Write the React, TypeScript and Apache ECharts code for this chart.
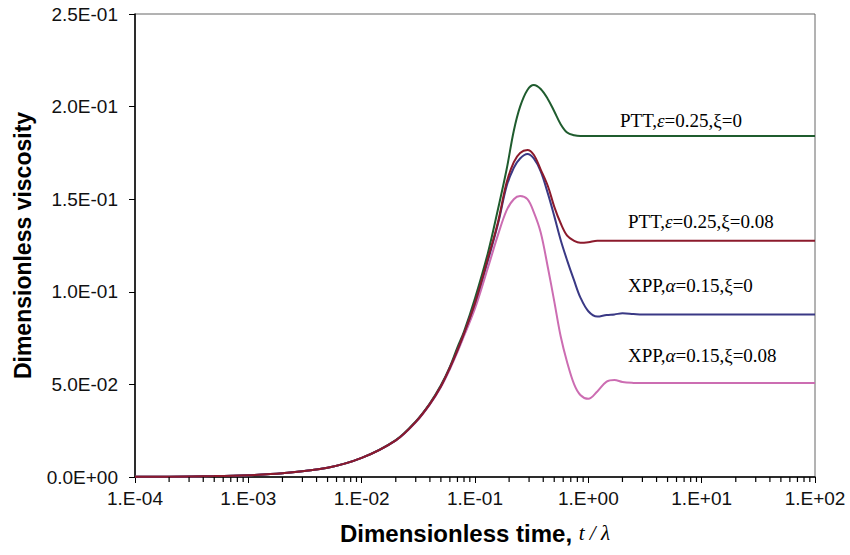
import React, { useEffect, useRef } from 'react';
import * as echarts from 'echarts';

// Dimensionless time t/λ
const times = [1e-4, 2e-4, 5e-4, 1e-3, 2e-3, 5e-3, 0.01, 0.02, 0.03, 0.04, 0.05, 0.06, 0.07, 0.08, 0.1,
  0.13, 0.16, 0.19, 0.22, 0.25, 0.29, 0.33, 0.38, 0.44, 0.5, 0.57, 0.65, 0.75, 0.85,
  1.0, 1.2, 1.45, 1.7, 2.0, 2.5, 3.0, 10, 100];

const pttXi0 = [0.0001, 0.0002, 0.0005, 0.001, 0.002, 0.005, 0.0103, 0.0199, 0.03, 0.0398, 0.0495, 0.0595, 0.070, 0.0785, 0.0965,
  0.121, 0.145, 0.166, 0.187, 0.200, 0.209, 0.2117, 0.2095, 0.204, 0.1975, 0.1905, 0.186, 0.1845, 0.1841,
  0.1841, 0.1841, 0.1841, 0.1841, 0.1841, 0.1841, 0.1841, 0.1841, 0.1841];

const pttXi008 = [0.0001, 0.0002, 0.0005, 0.001, 0.002, 0.005, 0.0103, 0.0198, 0.0298, 0.0395, 0.049, 0.059, 0.0685, 0.0775, 0.094,
  0.118, 0.138, 0.159, 0.170, 0.175, 0.1766, 0.174, 0.166, 0.157, 0.146, 0.137, 0.1303, 0.1275, 0.1265,
  0.1268, 0.1276, 0.1275, 0.1275, 0.1275, 0.1275, 0.1275, 0.1275, 0.1275];

const xppXi0 = [0.0001, 0.0002, 0.0005, 0.001, 0.002, 0.005, 0.0103, 0.0198, 0.0298, 0.0395, 0.049, 0.059, 0.0685, 0.0775, 0.094,
  0.117, 0.137, 0.157, 0.167, 0.172, 0.1744, 0.172, 0.165, 0.153, 0.141, 0.128, 0.117, 0.106, 0.097,
  0.0895, 0.0866, 0.0875, 0.0878, 0.0884, 0.0880, 0.0877, 0.0877, 0.0877];

const xppXi008 = [0.0001, 0.0002, 0.0005, 0.001, 0.002, 0.005, 0.0103, 0.0197, 0.0295, 0.0392, 0.0485, 0.0582, 0.0675, 0.0762, 0.091,
  0.113, 0.131, 0.144, 0.150, 0.1517, 0.150, 0.143, 0.132, 0.113, 0.095, 0.076, 0.062, 0.050, 0.0443,
  0.0422, 0.0462, 0.0515, 0.0524, 0.0513, 0.0508, 0.0507, 0.0507, 0.0507];

const seriesNames = ['PTT,ε=0.25,ξ=0', 'PTT,ε=0.25,ξ=0.08', 'XPP,α=0.15,ξ=0', 'XPP,α=0.15,ξ=0.08'];
const seriesColors = ['#1f5c2e', '#8c1a2c', '#3a3985', '#cc6db2'];

// minor tick positions (log axis): multipliers within each decade
const minorDecades = [-4, -3, -2, -1, 0, 1];
const minorMultipliers = [2, 3, 4, 5, 6, 7, 8, 9];

const pair = (vals: number[]) => times.map((t, i) => [t, vals[i]]);

const yFmt = (v: number) => {
  if (v === 0) return '0.0E+00';
  const e = Math.floor(Math.log10(v) + 1e-9);
  const m = v / Math.pow(10, e);
  return m.toFixed(1) + 'E' + (e < 0 ? '-' : '+') + String(Math.abs(e)).padStart(2, '0');
};
const xFmt = (v: number) => {
  const e = Math.round(Math.log10(v));
  return '1.E' + (e < 0 ? '-' : '+') + String(Math.abs(e)).padStart(2, '0');
};

export default function App() {
  const ref = useRef<HTMLDivElement>(null);
  useEffect(() => {
    if (!ref.current) return;
    const chart = echarts.init(ref.current, null, { renderer: 'svg' });
    const minorTicks: number[][] = [];
    minorDecades.forEach((d) => minorMultipliers.forEach((m) => minorTicks.push([m * Math.pow(10, d), 1])));

    const serif = '"Liberation Serif", "Times New Roman", serif';
    const sans = '"Liberation Sans", Arial, Helvetica, sans-serif';
    const labelRich = {
      n: { fontFamily: serif, fontSize: 19, color: '#000' },
      i: { fontFamily: serif, fontSize: 19, fontStyle: 'italic', color: '#000' },
    };
    const mkLabel = (left: number, top: number, parts: string) => ({
      type: 'text', left, top, silent: true,
      style: { text: parts, rich: labelRich, fill: '#000', font: '19px ' + serif },
    });

    const lineSeries = (name: string, vals: number[], color: string) => ({
      name, type: 'line', data: pair(vals), showSymbol: false, smooth: 0.35,
      lineStyle: { color, width: 2 }, itemStyle: { color }, z: 3,
    });

    chart.setOption({
      animation: false,
      backgroundColor: '#fff',
      grid: [
        { left: 135, right: 35, top: 14, bottom: 78, show: true, borderColor: '#666', borderWidth: 1 },
        // thin strip under the x axis that holds the log minor ticks
        { left: 135, right: 35, top: 477, height: 6, show: false },
      ],
      xAxis: [
        {
          type: 'log', logBase: 10, min: 1e-4, max: 100, gridIndex: 0,
          axisLine: { lineStyle: { color: '#000', width: 1.5 } },
          axisTick: { length: 6, lineStyle: { color: '#000', width: 1 } },
          axisLabel: { formatter: xFmt, fontSize: 19, fontFamily: sans, color: '#111', margin: 12 },
          splitLine: { show: false },
          name: '{a|Dimensionless time, }{b|t / λ}',
          nameLocation: 'middle', nameGap: 44,
          nameTextStyle: {
            rich: {
              a: { fontFamily: sans, fontWeight: 'bold', fontSize: 24, color: '#000' },
              b: { fontFamily: serif, fontStyle: 'italic', fontSize: 21, color: '#000' },
            },
          },
        },
        { type: 'log', logBase: 10, min: 1e-4, max: 100, gridIndex: 1, show: false },
      ],
      yAxis: [
        {
          type: 'value', min: 0, max: 0.25, interval: 0.05, gridIndex: 0,
          axisLine: { show: true, lineStyle: { color: '#000', width: 1.5 } },
          axisTick: { show: true, length: 6, lineStyle: { color: '#000', width: 1 } },
          axisLabel: { formatter: yFmt, fontSize: 19, fontFamily: sans, color: '#111', margin: 17 },
          splitLine: { show: false },
          name: 'Dimensionless viscosity',
          nameLocation: 'middle', nameGap: 101,
          nameTextStyle: { fontFamily: sans, fontWeight: 'bold', fontSize: 23, color: '#000' },
        },
        { type: 'value', min: 0, max: 1, gridIndex: 1, show: false },
      ],
      series: [
        lineSeries(seriesNames[0], pttXi0, seriesColors[0]),
        lineSeries(seriesNames[3], xppXi008, seriesColors[3]),
        lineSeries(seriesNames[2], xppXi0, seriesColors[2]),
        lineSeries(seriesNames[1], pttXi008, seriesColors[1]),
        {
          name: 'minorTicks', type: 'custom', data: minorTicks, z: 5,
          xAxisIndex: 1, yAxisIndex: 1, encode: { x: 0, y: 1 },
          renderItem: (params: any, api: any) => {
            const p = api.coord([api.value(0), api.value(1)]);
            return {
              type: 'rect',
              shape: { x: p[0] - 0.6, y: p[1], width: 1.2, height: 5 },
              style: { fill: '#000', stroke: null },
            };
          },
        },
      ],
      graphic: [
        mkLabel(620, 111, '{n|PTT,}{i|ε}{n|=0.25,ξ=0}'),
        mkLabel(628, 212, '{n|PTT,}{i|ε}{n|=0.25,ξ=0.08}'),
        mkLabel(628, 276, '{n|XPP,}{i|α}{n|=0.15,ξ=0}'),
        mkLabel(628, 346, '{n|XPP,}{i|α}{n|=0.15,ξ=0.08}'),
      ],
    });
    return () => chart.dispose();
  }, []);
  return <div ref={ref} style={{ position: 'fixed', left: 0, top: 0, width: 850, height: 555 }} />;
}
